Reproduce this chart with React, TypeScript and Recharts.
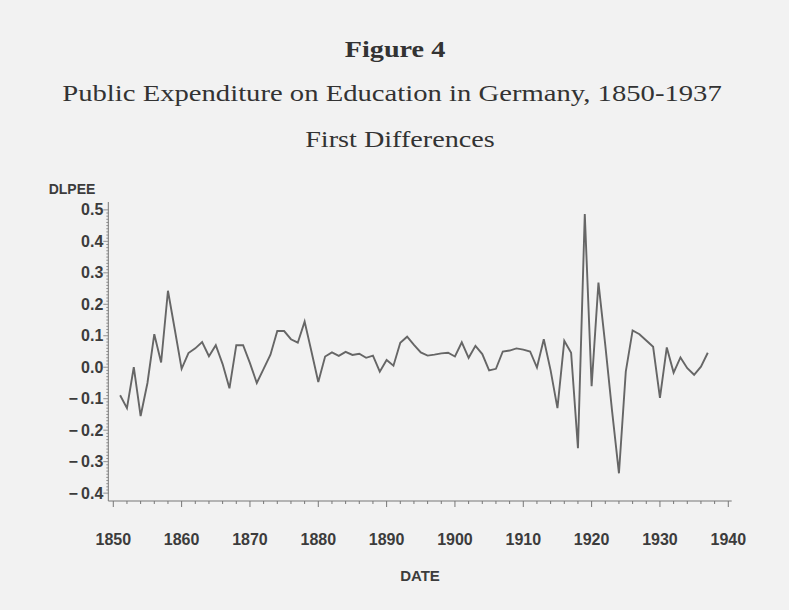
import React from 'react';
import { LineChart, Line, XAxis, YAxis } from 'recharts';

// years of first differences (1851..1937) and the DLPEE values
const years = [
  1851, 1852, 1853, 1854, 1855, 1856, 1857, 1858, 1859, 1860,
  1861, 1862, 1863, 1864, 1865, 1866, 1867, 1868, 1869, 1870,
  1871, 1872, 1873, 1874, 1875, 1876, 1877, 1878, 1879, 1880,
  1881, 1882, 1883, 1884, 1885, 1886, 1887, 1888, 1889, 1890,
  1891, 1892, 1893, 1894, 1895, 1896, 1897, 1898, 1899, 1900,
  1901, 1902, 1903, 1904, 1905, 1906, 1907, 1908, 1909, 1910,
  1911, 1912, 1913, 1914, 1915, 1916, 1917, 1918, 1919, 1920,
  1921, 1922, 1923, 1924, 1925, 1926, 1927, 1928, 1929, 1930,
  1931, 1932, 1933, 1934, 1935, 1936, 1937,
];

const dlpee = [
  -0.089, -0.13, 0.0, -0.155, -0.05, 0.105, 0.015, 0.243, 0.12, -0.005,
  0.045, 0.06, 0.08, 0.035, 0.07, 0.01, -0.067, 0.07, 0.07, 0.013,
  -0.05, -0.005, 0.04, 0.115, 0.115, 0.089, 0.078, 0.145, 0.05, -0.047,
  0.034, 0.047, 0.036, 0.049, 0.039, 0.043, 0.03, 0.037, -0.014, 0.023,
  0.005, 0.078, 0.097, 0.071, 0.047, 0.037, 0.04, 0.044, 0.046, 0.034,
  0.079, 0.03, 0.068, 0.042, -0.01, -0.005, 0.05, 0.053, 0.06, 0.056,
  0.05, -0.001, 0.089, -0.01, -0.13, 0.084, 0.046, -0.257, 0.487, -0.06,
  0.269, 0.07, -0.14, -0.337, -0.014, 0.117, 0.105, 0.085, 0.065, -0.097,
  0.063, -0.017, 0.031, -0.003, -0.024, 0.002, 0.046,
];

const xMajorTicks = [1850, 1860, 1870, 1880, 1890, 1900, 1910, 1920, 1930, 1940];
const yMajorTicks = [-0.4, -0.3, -0.2, -0.1, 0.0, 0.1, 0.2, 0.3, 0.4, 0.5];

const data = years.map((year, i) => ({ year, dlpee: dlpee[i] }));

// minor ticks: every 2 years on x, every 0.01 on y
const xTicks: number[] = [];
xMajorTicks.forEach((t, i) => {
  xTicks.push(t);
  if (i < xMajorTicks.length - 1) for (let k = 2; k < 10; k += 2) xTicks.push(t + k);
});
const yTicks: number[] = [];
yMajorTicks.forEach((t, i) => {
  yTicks.push(t);
  if (i < yMajorTicks.length - 1)
    for (let k = 1; k < 10; k++) yTicks.push(Math.round((t + k * 0.01) * 1000) / 1000);
});

const AXIS = '#777';
const INK = '#3c3c3c';
const SANS = "'Liberation Sans', Arial, sans-serif";
const SERIF = "'Liberation Serif', 'Times New Roman', serif";

const isMajor = (v: number, list: number[]) => list.some((m) => Math.abs(m - v) < 1e-6);

const XTick = ({ x, y, payload }: any) => {
  const major = isMajor(payload.value, xMajorTicks);
  return (
    <g>
      <line x1={x} y1={y} x2={x} y2={y + (major ? 6 : 3)} stroke={AXIS} strokeWidth={1} />
      {major && (
        <text x={x} y={y + 44} textAnchor="middle" fill={INK} fontFamily={SANS} fontSize={16} fontWeight="bold">
          {payload.value}
        </text>
      )}
    </g>
  );
};

const YTick = ({ x, y, payload }: any) => {
  const v = payload.value;
  const major = isMajor(v, yMajorTicks);
  const label = v < -1e-9 ? `\u2212\u2009${Math.abs(v).toFixed(1)}` : Math.abs(v).toFixed(1);
  return (
    <g>
      <line x1={x} y1={y} x2={x - (major ? 5 : 2)} y2={y} stroke={AXIS} strokeWidth={0.8} />
      {major && (
        <text x={x - 5} y={y + 5.5} textAnchor="end" fill={INK} fontFamily={SANS} fontSize={16} fontWeight="bold">
          {label}
        </text>
      )}
    </g>
  );
};

export default function App() {
  return (
    <div style={{ position: 'absolute', left: 0, top: 0, width: 789, height: 610, background: '#f2f2f2', overflow: 'hidden' }}>
      <LineChart
        width={789}
        height={610}
        data={data}
        margin={{ top: 202, right: 57.3, bottom: 49, left: 48.3 }}
      >
        <XAxis
          type="number"
          dataKey="year"
          domain={[1849.27, 1940.5]}
          ticks={xTicks}
          interval={0}
          height={60}
          tickSize={0}
          tickMargin={0}
          tickLine={false}
          axisLine={{ stroke: AXIS, strokeWidth: 1 }}
          tick={<XTick />}
        />
        <YAxis
          type="number"
          domain={[-0.425, 0.525]}
          ticks={yTicks}
          interval={0}
          width={60}
          tickSize={0}
          tickMargin={0}
          tickLine={false}
          axisLine={{ stroke: AXIS, strokeWidth: 1 }}
          tick={<YTick />}
        />
        <Line
          type="linear"
          dataKey="dlpee"
          stroke="#666"
          strokeWidth={1.9}
          dot={false}
          isAnimationActive={false}
        />
      </LineChart>
      <svg width={789} height={610} style={{ position: 'absolute', left: 0, top: 0, pointerEvents: 'none' }}>
        <g transform="translate(395,57) scale(1.2,1)">
          <text x={0} y={0} textAnchor="middle" fill="#333" fontFamily={SERIF} fontSize={23.5} fontWeight="bold">
            Figure 4
          </text>
        </g>
        <g transform="translate(392,101) scale(1.22,1)">
          <text x={0} y={0} textAnchor="middle" fill="#333" fontFamily={SERIF} fontSize={23.5}>
            Public Expenditure on Education in Germany, 1850-1937
          </text>
        </g>
        <g transform="translate(400,147) scale(1.2,1)">
          <text x={0} y={0} textAnchor="middle" fill="#333" fontFamily={SERIF} fontSize={23.5}>
            First Differences
          </text>
        </g>
        <text x={72} y={194} textAnchor="middle" fill={INK} fontFamily={SANS} fontSize={14} fontWeight="bold">
          DLPEE
        </text>
        <text x={420} y={581} textAnchor="middle" fill={INK} fontFamily={SANS} fontSize={15} fontWeight="bold">
          DATE
        </text>
      </svg>
    </div>
  );
}
